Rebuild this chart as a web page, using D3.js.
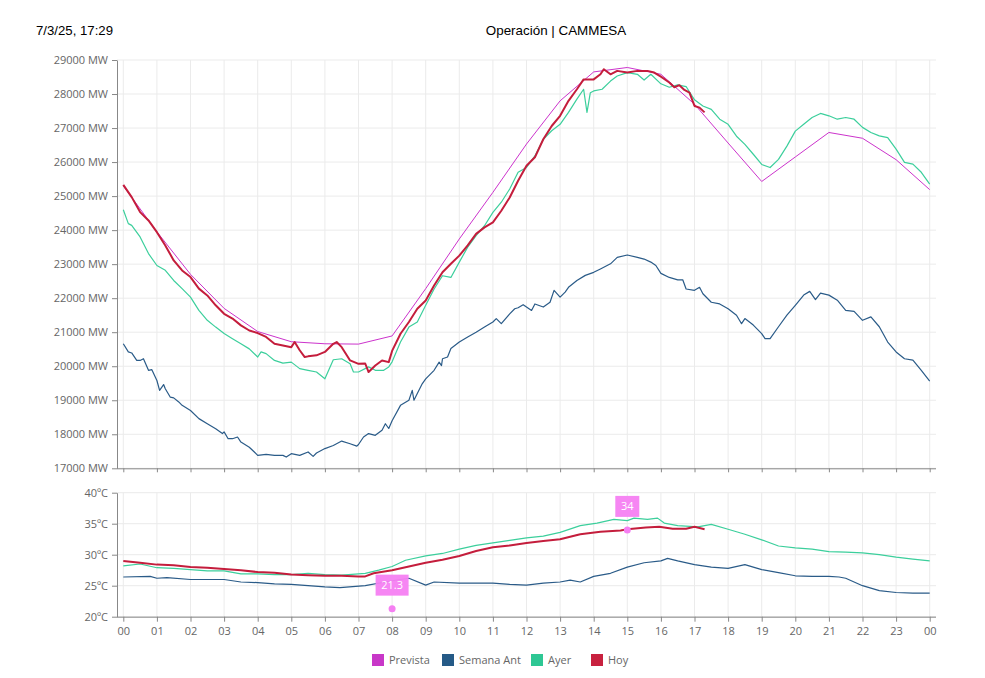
<!DOCTYPE html>
<html><head><meta charset="utf-8">
<script src="https://cdn.jsdelivr.net/npm/d3@7"></script>
<style>
body{margin:0;background:#fff;}
svg{display:block;font-family:"Open Sans",sans-serif;}
</style></head>
<body>
<svg id="chart" width="985" height="678"></svg>
<script>
// ---------- DATA ----------
const hourTicks = d3.range(0, 25);
const hourLabels = ["00","01","02","03","04","05","06","07","08","09","10","11","12","13","14","15","16","17","18","19","20","21","22","23","00"];
const mwTicks = [17000,18000,19000,20000,21000,22000,23000,24000,25000,26000,27000,28000,29000];
const tempTicks = [20,25,30,35,40];
const seriesNames = ["Prevista","Semana Ant","Ayer","Hoy"];

const previstaMW = [[0,25300],[1,23950],[2,22700],[3,21700],[4,21020],[5,20720],[6,20660],[7,20650],[8,20890],[9,22280],[10,23740],[11,25110],[12,26530],[13,27800],[14,28650],[15,28780],[16,28580],[17,27700],[18,26560],[19,25430],[20,26150],[21,26870],[22,26700],[23,26070],[24,25190]];

const semanaMW = [[0,20660],[0.15,20420],[0.25,20390],[0.4,20170],[0.5,20170],[0.6,20220],[0.75,19880],[0.85,19900],[1,19580],[1.08,19290],[1.2,19460],[1.25,19340],[1.4,19090],[1.5,19070],[1.65,18950],[1.75,18850],[2,18700],[2.25,18460],[2.5,18310],[2.75,18160],[2.95,18020],[3,18070],[3.12,17870],[3.25,17870],[3.4,17920],[3.5,17770],[3.75,17620],[3.9,17480],[4,17380],[4.25,17410],[4.5,17380],[4.75,17380],[4.85,17330],[5,17430],[5.25,17380],[5.5,17480],[5.65,17350],[5.75,17450],[6,17580],[6.25,17670],[6.5,17800],[6.75,17720],[6.95,17650],[7,17700],[7.15,17920],[7.3,18020],[7.5,17970],[7.7,18120],[7.8,18310],[7.9,18170],[8,18400],[8.25,18850],[8.5,19000],[8.6,19290],[8.65,19000],[8.75,19200],[8.9,19490],[9,19630],[9.25,19880],[9.4,20120],[9.47,20020],[9.5,20220],[9.65,20270],[9.75,20520],[10,20710],[10.25,20860],[10.5,21000],[10.75,21150],[11,21300],[11.1,21400],[11.25,21250],[11.5,21540],[11.65,21690],[11.75,21720],[11.9,21810],[12,21740],[12.15,21640],[12.25,21830],[12.5,21740],[12.7,21880],[12.82,22230],[13,22030],[13.15,22180],[13.25,22320],[13.5,22520],[13.75,22670],[14,22760],[14.2,22860],[14.5,23010],[14.7,23200],[15,23270],[15.3,23200],[15.5,23150],[15.7,23060],[15.85,22960],[16,22730],[16.25,22610],[16.5,22540],[16.65,22540],[16.75,22270],[17,22230],[17.15,22320],[17.25,22130],[17.5,21880],[17.75,21830],[18,21690],[18.25,21500],[18.4,21250],[18.5,21400],[18.75,21210],[19,20960],[19.1,20810],[19.25,20810],[19.5,21160],[19.75,21500],[20,21790],[20.25,22090],[20.43,22200],[20.6,21960],[20.75,22150],[21,22090],[21.25,21940],[21.5,21640],[21.75,21610],[22,21350],[22.25,21450],[22.5,21160],[22.75,20710],[23,20420],[23.25,20220],[23.5,20180],[23.75,19880],[24,19560]];

const ayerMW = [[0,24600],[0.15,24190],[0.25,24140],[0.5,23800],[0.75,23310],[1,22960],[1.25,22820],[1.5,22520],[1.75,22280],[2,22030],[2.25,21640],[2.5,21350],[2.75,21150],[3,20960],[3.25,20810],[3.5,20660],[3.75,20510],[4,20270],[4.1,20420],[4.25,20370],[4.5,20170],[4.75,20090],[5,20120],[5.25,19930],[5.5,19880],[5.75,19830],[6,19630],[6.25,20190],[6.5,20220],[6.75,20070],[6.85,19830],[7,19830],[7.3,19980],[7.5,19880],[7.75,19880],[7.9,19980],[8,20130],[8.25,20710],[8.5,21150],[8.75,21300],[9,21790],[9.25,22270],[9.5,22660],[9.75,22610],[10,23060],[10.25,23500],[10.5,23840],[10.75,24130],[11,24520],[11.25,24820],[11.5,25210],[11.75,25700],[12,25840],[12.25,26180],[12.5,26670],[12.75,26920],[13,27110],[13.25,27460],[13.5,27850],[13.7,28140],[13.8,27460],[13.9,28040],[14,28090],[14.25,28140],[14.5,28380],[14.7,28530],[15,28630],[15.3,28580],[15.5,28410],[15.7,28580],[16,28300],[16.25,28200],[16.5,28270],[16.75,28220],[17,27830],[17.25,27650],[17.5,27550],[17.75,27260],[18,27110],[18.25,26760],[18.5,26520],[18.75,26230],[19,25930],[19.25,25840],[19.5,26080],[19.75,26470],[20,26910],[20.25,27110],[20.5,27310],[20.75,27430],[21,27360],[21.25,27260],[21.5,27310],[21.75,27260],[22,27020],[22.25,26870],[22.5,26770],[22.75,26720],[23,26380],[23.25,25990],[23.5,25940],[23.75,25700],[24,25350]];

const hoyMW = [[0,25330],[0.25,24970],[0.5,24530],[0.75,24285],[1,23940],[1.25,23550],[1.5,23110],[1.75,22815],[2,22620],[2.25,22280],[2.5,22080],[2.75,21790],[3,21540],[3.25,21400],[3.5,21200],[3.75,21050],[4,20975],[4.25,20860],[4.5,20660],[4.75,20610],[5,20560],[5.1,20710],[5.25,20470],[5.4,20270],[5.5,20290],[5.75,20320],[6,20420],[6.25,20660],[6.35,20710],[6.5,20560],[6.75,20170],[7,20070],[7.2,20080],[7.3,19830],[7.5,20020],[7.7,20170],[7.9,20120],[8,20450],[8.25,20955],[8.5,21300],[8.75,21690],[9,21930],[9.25,22370],[9.5,22760],[9.75,23010],[10,23250],[10.25,23550],[10.5,23890],[10.75,24080],[11,24230],[11.25,24570],[11.5,24960],[11.75,25450],[12,25890],[12.25,26140],[12.5,26670],[12.75,27060],[13,27360],[13.25,27800],[13.5,28140],[13.7,28430],[14,28430],[14.2,28580],[14.3,28730],[14.5,28580],[14.7,28680],[15,28630],[15.3,28680],[15.6,28680],[15.8,28630],[16,28510],[16.25,28340],[16.4,28200],[16.55,28260],[16.7,28120],[16.85,28040],[17,27650],[17.15,27600],[17.3,27460]];

const semanaTemp = [[0,26.4],[0.8,26.5],[1,26.2],[1.3,26.3],[2,26.0],[3,26.0],[3.5,25.6],[4,25.5],[4.5,25.3],[5,25.2],[5.5,25.0],[6,24.8],[6.45,24.7],[7.2,25.0],[8,25.8],[8.5,26.2],[9,25.1],[9.25,25.6],[10,25.4],[11,25.4],[11.5,25.2],[12,25.1],[12.5,25.4],[13,25.6],[13.3,25.9],[13.6,25.6],[14,26.5],[14.5,27.0],[15,28.0],[15.5,28.7],[16,29.0],[16.2,29.4],[16.5,29.0],[17,28.4],[17.5,28.0],[18,27.8],[18.5,28.4],[19,27.6],[19.5,27.1],[20,26.6],[20.5,26.5],[21,26.5],[21.3,26.4],[21.5,26.2],[22,25.0],[22.5,24.2],[23,23.9],[23.5,23.8],[24,23.8]];

const ayerTemp = [[0,28.2],[0.5,28.5],[1,27.9],[1.5,27.8],[2,27.6],[2.5,27.4],[3,27.4],[3.5,26.9],[4,26.9],[4.5,26.8],[5,26.8],[5.5,27.0],[6,26.8],[6.5,26.7],[7.2,27.0],[7.6,27.5],[8,28.1],[8.4,29.1],[9,29.8],[9.5,30.2],[10,30.9],[10.5,31.5],[11,31.9],[11.5,32.3],[12,32.7],[12.5,33.0],[13,33.6],[13.6,34.7],[14.1,35.1],[14.6,35.7],[15,35.5],[15.2,35.9],[15.6,35.7],[15.9,35.9],[16.1,35.1],[16.5,34.7],[17.1,34.5],[17.5,34.9],[18,34.1],[18.5,33.3],[19,32.4],[19.5,31.4],[20,31.1],[20.5,30.9],[21,30.5],[21.5,30.4],[22,30.3],[22.5,30.0],[23,29.6],[23.5,29.3],[24,29.0]];

const hoyTemp = [[0,29.0],[0.5,28.7],[1,28.4],[1.5,28.3],[2,28.0],[2.5,27.9],[3,27.7],[3.5,27.5],[4,27.2],[4.5,27.1],[5,26.8],[5.5,26.7],[6,26.6],[6.5,26.6],[7,26.5],[7.2,26.5],[7.45,27.0],[8,27.5],[8.5,28.1],[9,28.7],[9.5,29.2],[10,29.8],[10.5,30.6],[11,31.2],[11.5,31.5],[12,31.9],[12.5,32.2],[13,32.5],[13.6,33.3],[14.2,33.7],[14.8,33.9],[15,34.1],[15.55,34.4],[15.95,34.5],[16.35,34.2],[16.75,34.2],[17,34.5],[17.3,34.1]];

const markerHours = [8, 15];
const markerTemps = [21.3, 34];
const markerLabels = ["21.3", "34"];

const dateText = "7/3/25, 17:29";
const titleText = "Operación | CAMMESA";

// ---------- DRAW ----------
const colors = {"Prevista":"#cc33cc","Semana Ant":"#2a5b88","Ayer":"#3ccf9c","Hoy":"#c41d3c"};
const legendColors = {"Prevista":"#c837c8","Semana Ant":"#255a87","Ayer":"#2ec794","Hoy":"#c8213f"};
const svg = d3.select("#chart");

const plotL = 117, plotR = 936;
const x = d3.scaleLinear().domain([0,24]).range([123.3, 929.7]);
const yMW = d3.scaleLinear().domain([17000,29000]).range([468.3, 60]);
const yT = d3.scaleLinear().domain([20,40]).range([616.7, 492.7]);

svg.append("text").attr("x",36).attr("y",34.5).attr("font-family","'Liberation Sans',Arial,sans-serif")
  .attr("font-size",13.2).attr("fill","#000").text(dateText);
svg.append("text").attr("x",556).attr("y",34.5).attr("text-anchor","middle")
  .attr("font-family","'Liberation Sans',Arial,sans-serif").attr("font-size",13.4).attr("fill","#000").text(titleText);

function grid(y, ticks, top, bottom){
  const g = svg.append("g");
  g.selectAll(".h").data(ticks).join("line")
    .attr("x1",plotL).attr("x2",plotR).attr("y1",d=>y(d)).attr("y2",d=>y(d))
    .attr("stroke","#ebebeb").attr("stroke-width",1);
  g.selectAll(".v").data(hourTicks).join("line")
    .attr("x1",d=>x(d)).attr("x2",d=>x(d)).attr("y1",top).attr("y2",bottom)
    .attr("stroke","#ebebeb").attr("stroke-width",1);
}
grid(yMW, mwTicks, 60, 468.3);
grid(yT, tempTicks, 492.7, 616.7);

function styleAxis(g){
  g.selectAll("path").attr("stroke","#888");
  g.selectAll("line").attr("stroke","#888");
  g.selectAll("text").attr("fill","#666").attr("font-size",11).attr("font-family","'Open Sans',sans-serif");
}
const ayMW = svg.append("g").attr("transform",`translate(${plotL},0)`)
  .call(d3.axisLeft(yMW).tickValues(mwTicks).tickFormat(d=>d+" MW").tickSize(5).tickSizeOuter(0).tickPadding(4));
styleAxis(ayMW);
const axTop = svg.append("g").attr("transform",`translate(0,468.3)`)
  .call(d3.axisBottom(x).tickValues(hourTicks).tickFormat("").tickSize(4).tickSizeOuter(0));
axTop.select("path").attr("d",`M${plotL},0.5H${plotR}`);
styleAxis(axTop);

const ayT = svg.append("g").attr("transform",`translate(${plotL},0)`)
  .call(d3.axisLeft(yT).tickValues(tempTicks).tickFormat(d=>d+"ºC").tickSize(5).tickSizeOuter(0).tickPadding(4));
styleAxis(ayT);
const axB = svg.append("g").attr("transform",`translate(0,616.7)`)
  .call(d3.axisBottom(x).tickValues(hourTicks).tickFormat((d,i)=>hourLabels[i]).tickSize(5).tickSizeOuter(0).tickPadding(6));
axB.select("path").attr("d",`M${plotL},0.5H${plotR}`);
styleAxis(axB);

const lineMW = d3.line().x(d=>x(d[0])).y(d=>yMW(d[1]));
const lineT = d3.line().x(d=>x(d[0])).y(d=>yT(d[1]));

function drawLine(gen, data, color, w){
  svg.append("path").datum(data).attr("d",gen).attr("fill","none")
    .attr("stroke",color).attr("stroke-width",w).attr("stroke-linejoin","round");
}
drawLine(lineMW, semanaMW, colors["Semana Ant"], 1.2);
drawLine(lineMW, ayerMW, colors["Ayer"], 1.2);
drawLine(lineMW, previstaMW, colors["Prevista"], 1);
drawLine(lineMW, hoyMW, colors["Hoy"], 2);

drawLine(lineT, semanaTemp, colors["Semana Ant"], 1.2);
drawLine(lineT, ayerTemp, colors["Ayer"], 1.2);
drawLine(lineT, hoyTemp, colors["Hoy"], 2);

// markers
const mk = svg.append("g");
markerHours.forEach((h,i)=>{
  const cx = x(h), cy = yT(markerTemps[i]);
  mk.append("circle").attr("cx",cx).attr("cy",cy).attr("r",3.5).attr("fill","#f57ff2");
  const w = markerLabels[i].length > 2 ? 33 : 24;
  mk.append("rect").attr("x",cx-w/2).attr("y",cy-34).attr("width",w).attr("height",21)
    .attr("fill","#f57ff2").attr("opacity",0.95);
  mk.append("text").attr("x",cx).attr("y",cy-19.5).attr("text-anchor","middle")
    .attr("fill","#fff").attr("font-size",11).text(markerLabels[i]);
});

// legend
const legX = [372, 442, 531, 591];
const leg = svg.append("g");
seriesNames.forEach((n,i)=>{
  leg.append("rect").attr("x",legX[i]).attr("y",654).attr("width",12).attr("height",12)
    .attr("fill",legendColors[n]);
  leg.append("text").attr("x",legX[i]+17).attr("y",664).attr("font-size",11)
    .attr("fill","#666").text(n);
});
</script>
</body></html>
